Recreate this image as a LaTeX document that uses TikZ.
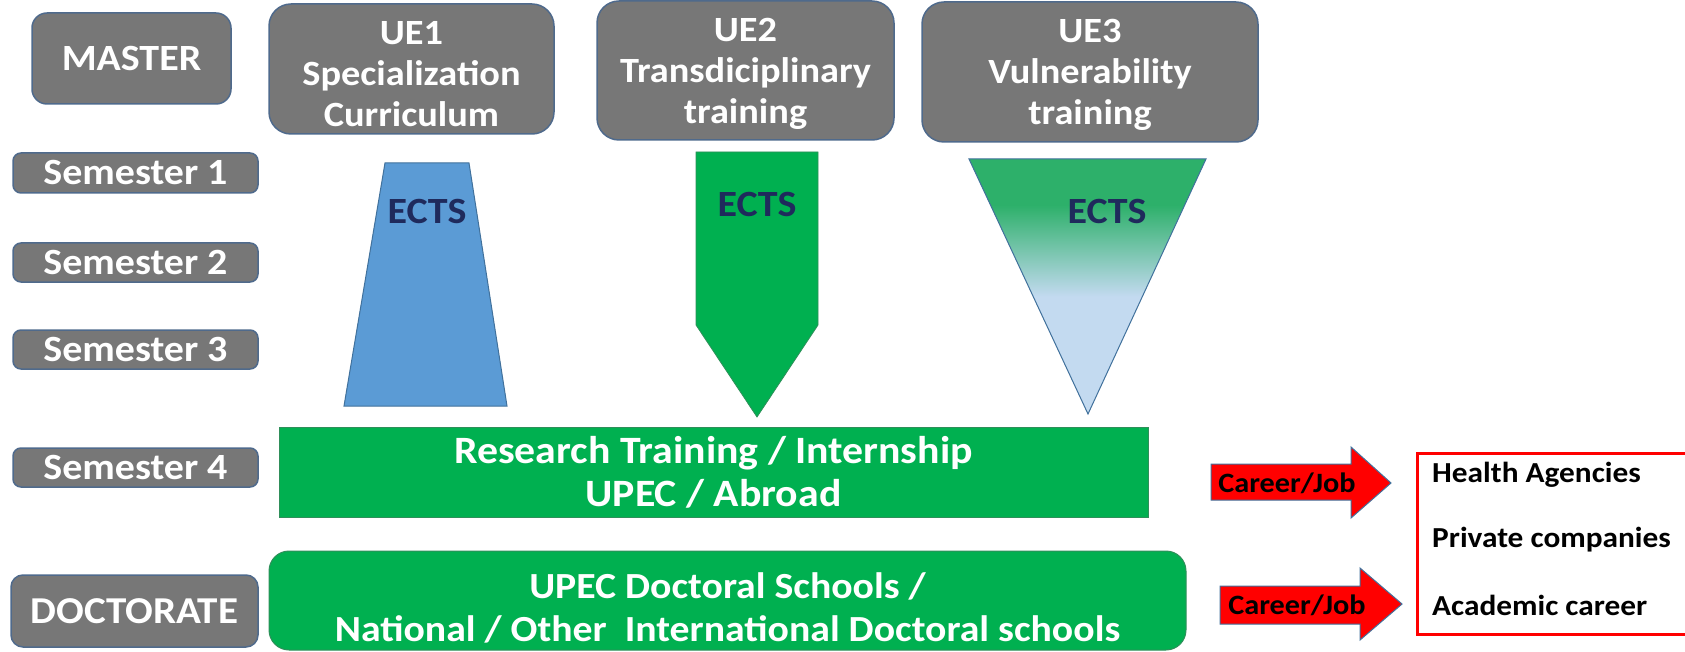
\documentclass[tikz,border=0pt]{standalone}
\usepackage{fontspec}
\setmainfont{Carlito}[FakeStretch=1.08]
\definecolor{boxgray}{HTML}{777777}
\definecolor{edgeblue}{HTML}{4F6A8C}
\definecolor{ggreen}{HTML}{00B050}
\definecolor{gedge}{HTML}{2F8F5A}
\definecolor{bluefill}{HTML}{5B9BD5}
\definecolor{blueedge}{HTML}{41719C}
\definecolor{navy}{HTML}{1F2A5C}
\definecolor{lightblue}{HTML}{C3DAF0}
\definecolor{tgreen}{HTML}{2DB06A}
\pgfdeclareverticalshading{ueshade}{100bp}{color(0bp)=(lightblue); color(48bp)=(lightblue); color(66bp)=(tgreen); color(100bp)=(tgreen)}
\begin{document}
\begin{tikzpicture}[x=1pt,y=-1pt,
  bigtext/.style={font=\bfseries\fontsize{37}{43}\selectfont},
  uetext/.style={font=\bfseries\fontsize{35.5}{41}\selectfont,text=white,align=center,inner sep=0pt},
  greentext/.style={font=\bfseries\fontsize{38.7}{43}\selectfont,text=white,align=center,inner sep=0pt},
  graybox/.style={bigtext,fill=boxgray,draw=edgeblue,line width=1.5pt,text=white,align=center,inner sep=0pt},
  greenbox/.style={fill=ggreen,draw=gedge,line width=1pt,inner sep=0pt},
  ects/.style={bigtext,text=navy,inner sep=0pt},
  careertext/.style={font=\bfseries\fontsize{28}{32}\selectfont,text=black,inner sep=0pt},
  jobtext/.style={font=\bfseries\fontsize{29}{34}\selectfont,text=black,inner sep=0pt,anchor=west},
  redarrow/.style={fill=red,draw=blueedge,line width=1pt}
]
\useasboundingbox (0,0) rectangle (1685,652);

% left column
\node[graybox,rounded corners=15pt,minimum width=199pt,minimum height=91pt] (master) at (131.5,58.5) {MASTER};
\node[graybox,rounded corners=8pt,minimum width=245pt,minimum height=40pt] (sem1) at (135.5,173) {Semester 1};
\node[graybox,rounded corners=8pt,minimum width=245pt,minimum height=39pt] (sem2) at (135.5,262.5) {Semester 2};
\node[graybox,rounded corners=8pt,minimum width=245pt,minimum height=39pt] (sem3) at (135.5,349.5) {Semester 3};
\node[graybox,rounded corners=8pt,minimum width=245pt,minimum height=39pt] (sem4) at (135.5,467.5) {Semester 4};
\node[graybox,rounded corners=12pt,minimum width=247pt,minimum height=72pt,font=\bfseries\fontsize{38}{43}\selectfont] (doct) at (134.5,611) {DOCTORATE};

% UE boxes
\node[graybox,rounded corners=22pt,minimum width=285pt,minimum height=130pt] (ue1) at (411.5,69) {};
\node[uetext] (ue1t) at (411.5,74) {UE1\\Specialization\\Curriculum};
\node[graybox,rounded corners=22pt,minimum width=297pt,minimum height=139pt] (ue2) at (745.5,70.5) {};
\node[uetext] (ue2t) at (745.5,74) {UE2\\Transdiciplinary\\training};
\node[graybox,rounded corners=22pt,minimum width=336pt,minimum height=140pt] (ue3) at (1090,72) {};
\node[uetext] (ue3t) at (1090,75) {UE3\\Vulnerability\\training};

% ECTS shapes
\draw[fill=bluefill,draw=blueedge,line width=1pt] (385,163) -- (469,163) -- (507,406) -- (344,406) -- cycle;
\node[ects] (ects1) at (427,211) {ECTS};
\draw[fill=ggreen,draw=gedge,line width=0.8pt] (696,152) -- (818,152) -- (818,325) -- (757,417) -- (696,325) -- cycle;
\node[ects] (ects2) at (757,204) {ECTS};
\shade[shading=ueshade,draw=blueedge,line width=1pt] (969,159) -- (1206,159) -- (1088,414) -- cycle;
\node[ects] (ects3) at (1107,211) {ECTS};

% green boxes
\node[greenbox,minimum width=869pt,minimum height=90pt] (research) at (713.5,472) {};
\node[greentext] (researcht) at (713.5,472) {Research Training / Internship\\UPEC / Abroad};
\node[greenbox,rounded corners=20pt,minimum width=917pt,minimum height=99pt] (doctoral) at (727.5,600.5) {};
\node[greentext,font=\bfseries\fontsize{36.8}{43}\selectfont] (doctext) at (727.5,607.5) {UPEC Doctoral Schools /\\National / Other\ \ International Doctoral schools};

% career arrows
\draw[redarrow] (1211,464) -- (1351,464) -- (1351,447) -- (1391,483) -- (1351,518) -- (1351,500) -- (1211,500) -- cycle;
\node[careertext] (career1) at (1287,483) {Career/Job};
\draw[redarrow] (1220,586) -- (1360,586) -- (1360,568) -- (1402,604) -- (1360,640) -- (1360,624) -- (1220,624) -- cycle;
\node[careertext] (career2) at (1297,605) {Career/Job};

% jobs box
\node[draw=red,line width=3pt,minimum width=284pt,minimum height=181pt,anchor=north west,inner sep=0pt] (jobs) at (1416,452) {};
\node[jobtext] (health) at (1432,475) {Health Agencies};
\node[jobtext] (private) at (1432,540) {Private companies};
\node[jobtext] (academic) at (1432,605) {Academic career};
\end{tikzpicture}
\end{document}
